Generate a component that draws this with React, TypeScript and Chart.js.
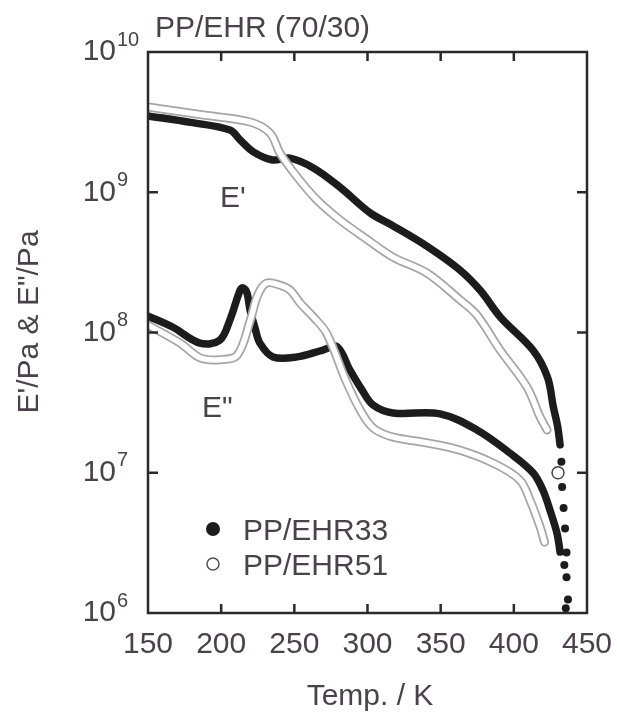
import React, { useEffect, useRef } from 'react';
import { Chart, registerables } from 'chart.js';

Chart.register(...registerables);

// ---------- data ----------
const titleText = 'PP/EHR (70/30)';
const xAxisTitle = 'Temp. / K';
const yAxisTitle = 'E\'/Pa & E"/Pa';
const seriesNames = ['PP/EHR33', 'PP/EHR51'];
const xTicks = [150, 200, 250, 300, 350, 400, 450];
const yExponents = [6, 7, 8, 9, 10];

// PP/EHR33  E'
const eStor33T = [150, 179, 206, 213, 222, 235, 247, 263, 281, 302, 317, 341, 363, 377, 391, 413, 423, 427, 430, 431.6];
const eStor33V = [3.5e9, 3.15e9, 2.78e9, 2.36e9, 1.94e9, 1.7e9, 1.75e9, 1.49e9, 1.09e9, 7.1e8, 5.8e8, 4.1e8, 2.8e8, 2.0e8, 1.28e8, 7.5e7, 4.8e7, 2.94e7, 2.12e7, 1.58e7];
// PP/EHR33  E''
const eLoss33T = [150, 167, 185.5, 199, 206, 213, 215, 217.7, 219.7, 223, 226.5, 235.4, 251.8, 269.6, 279.2, 288, 296.2, 303.8, 317.4, 349.6, 374.8, 397.4, 413.1, 419.9, 424.7, 429.5, 431.6];
const eLoss33V = [1.31e8, 1.09e8, 8.4e7, 8.8e7, 1.23e8, 2.01e8, 2.08e8, 1.91e8, 1.45e8, 1.09e8, 8.4e7, 6.7e7, 6.7e7, 7.5e7, 7.9e7, 5.4e7, 3.9e7, 3.04e7, 2.67e7, 2.63e7, 2.02e7, 1.38e7, 1.0e7, 7.5e6, 5.4e6, 3.7e6, 2.72e6];
// PP/EHR33  scattered points at the melting end
const tail33T = [432.5, 433, 434, 435, 436, 434.5, 436, 437, 435.5];
const tail33V = [1.2e7, 7.9e6, 5.6e6, 4.0e6, 2.7e6, 2.2e6, 1.8e6, 1.25e6, 1.08e6];

// PP/EHR51  E'
const eStor51T = [150, 185.5, 219.7, 233.4, 240.2, 251.8, 265.5, 281.2, 298.3, 317.4, 340.7, 363.2, 374.8, 390.6, 409, 417.9, 422.7];
const eStor51V = [4.06e9, 3.58e9, 3.17e9, 2.64e9, 1.9e9, 1.29e9, 8.8e8, 6.34e8, 4.72e8, 3.45e8, 2.65e8, 1.71e8, 1.33e8, 7.5e7, 4.08e7, 2.5e7, 2.02e7];
// PP/EHR51  E''
const eLoss51T = [150, 172, 185.5, 199, 211, 220, 225, 231, 240, 247, 254, 263, 272, 285, 295, 304, 317, 341, 363, 386, 404, 411, 418, 421];
const eLoss51V = [1.13e8, 8.4e7, 6.6e7, 6.4e7, 6.9e7, 1.23e8, 1.85e8, 2.25e8, 2.18e8, 2.01e8, 1.62e8, 1.29e8, 9.9e7, 4.6e7, 2.8e7, 2.08e7, 1.8e7, 1.63e7, 1.45e7, 1.17e7, 8.9e6, 6.4e6, 4.1e6, 3.2e6];
// PP/EHR51  isolated point at the melting end
const tail51T = [430.2];
const tail51V = [1.0e7];

// ---------- styling ----------
const FONT = '"Liberation Sans", Arial, Helvetica, sans-serif';
const TEXT = '#4a424a';
const FRAME = '#2a2a2a';
const BLACK = '#1c1c1c';
const OPEN_EDGE = '#a6a6a6';

const pts = (xs: number[], ys: number[]) => xs.map((x, i) => ({ x, y: ys[i] }));

const blackLine = (label: string, data: any[]) => ({
  label, data, showLine: true, borderColor: BLACK, borderWidth: 7.5, pointRadius: 0,
  tension: 0.35, borderCapStyle: 'round', borderJoinStyle: 'round', order: 3,
});
const openOuter = (label: string, data: any[]) => ({
  label, data, showLine: true, borderColor: OPEN_EDGE, borderWidth: 9, pointRadius: 0,
  tension: 0.35, borderCapStyle: 'round', borderJoinStyle: 'round', order: 2,
});
const openInner = (label: string, data: any[]) => ({
  label, data, showLine: true, borderColor: '#ffffff', borderWidth: 5.5, pointRadius: 0,
  tension: 0.35, borderCapStyle: 'round', borderJoinStyle: 'round', order: 1,
});

const decorPlugin = {
  id: 'decor',
  afterDraw(chart: any) {
    const { ctx, chartArea: a, scales } = chart;
    const xs = scales.x;
    const ys = scales.y;
    ctx.save();
    // frame
    ctx.strokeStyle = FRAME;
    ctx.lineWidth = 2.5;
    ctx.strokeRect(a.left, a.top, a.right - a.left, a.bottom - a.top);
    const seg = (x1: number, y1: number, x2: number, y2: number) => {
      ctx.beginPath(); ctx.moveTo(x1, y1); ctx.lineTo(x2, y2); ctx.stroke();
    };
    // inward x ticks
    xTicks.forEach((t, i) => {
      if (i === 0 || i === xTicks.length - 1) return;
      const px = xs.getPixelForValue(t);
      seg(px, a.bottom, px, a.bottom - 9);
      seg(px, a.top, px, a.top + 9);
    });
    // y ticks + labels with superscript exponent
    ctx.fillStyle = TEXT;
    yExponents.forEach((e, i) => {
      const py = ys.getPixelForValue(Math.pow(10, e));
      if (i !== 0 && i !== yExponents.length - 1) {
        seg(a.left, py, a.left + 10, py);
        seg(a.right, py, a.right - 10, py);
      }
      ctx.font = `30px ${FONT}`;
      ctx.textAlign = 'right';
      ctx.textBaseline = 'middle';
      ctx.fillText('10', a.left - 32, py);
      ctx.font = `20px ${FONT}`;
      ctx.textAlign = 'left';
      ctx.fillText(String(e), a.left - 31, py - 12);
    });
    // title
    ctx.font = `30px ${FONT}`;
    ctx.textAlign = 'left';
    ctx.textBaseline = 'alphabetic';
    ctx.fillText(titleText, a.left + 7, a.top - 15);
    // x axis title
    ctx.textAlign = 'center';
    ctx.fillText(xAxisTitle, 370, 705);
    // y axis title
    ctx.save();
    ctx.translate(30, 322);
    ctx.rotate(-Math.PI / 2);
    ctx.textBaseline = 'middle';
    ctx.fillText(yAxisTitle, 0, 0);
    ctx.restore();
    // curve annotations
    ctx.textAlign = 'left';
    ctx.textBaseline = 'alphabetic';
    ctx.fillText("E'", 220, 207);
    ctx.fillText('E"', 202, 417);
    // legend
    ctx.fillStyle = BLACK;
    ctx.beginPath(); ctx.arc(213, 529, 7, 0, Math.PI * 2); ctx.fill();
    ctx.strokeStyle = '#555055';
    ctx.lineWidth = 1.5;
    ctx.beginPath(); ctx.arc(213, 564, 6, 0, Math.PI * 2); ctx.stroke();
    ctx.fillStyle = TEXT;
    ctx.fillText(seriesNames[0], 243, 540);
    ctx.fillText(seriesNames[1], 243, 575);
    ctx.restore();
  },
};

export default function App() {
  const ref = useRef<HTMLCanvasElement>(null);
  useEffect(() => {
    if (!ref.current) return;
    const datasets: any[] = [
      blackLine(seriesNames[0] + " E'", pts(eStor33T, eStor33V)),
      blackLine(seriesNames[0] + ' E"', pts(eLoss33T, eLoss33V)),
      openOuter(seriesNames[1] + " E'", pts(eStor51T, eStor51V)),
      openOuter(seriesNames[1] + ' E"', pts(eLoss51T, eLoss51V)),
      openInner(seriesNames[1] + " E'", pts(eStor51T, eStor51V)),
      openInner(seriesNames[1] + ' E"', pts(eLoss51T, eLoss51V)),
      {
        label: seriesNames[0] + ' end', data: pts(tail33T, tail33V), showLine: false,
        pointRadius: 4, backgroundColor: BLACK, borderColor: BLACK, borderWidth: 0, order: 0,
      },
      {
        label: seriesNames[1] + ' end', data: pts(tail51T, tail51V), showLine: false,
        pointRadius: 6, backgroundColor: '#ffffff', borderColor: '#4a424a', borderWidth: 1.5, order: 0,
      },
    ];
    const chart = new Chart(ref.current, {
      type: 'scatter',
      data: { datasets },
      options: {
        responsive: false,
        maintainAspectRatio: false,
        animation: false,
        layout: { padding: { left: 0, right: 30, top: 52, bottom: 0 } },
        plugins: { legend: { display: false }, tooltip: { enabled: false }, title: { display: false } },
        scales: {
          x: {
            type: 'linear', min: 150, max: 450,
            afterFit: (s: any) => { s.height = 101; s.paddingLeft = 0; s.paddingRight = 0; },
            afterBuildTicks: (s: any) => { s.ticks = xTicks.map((v) => ({ value: v })); },
            grid: { display: false, drawTicks: false },
            border: { display: false },
            ticks: { font: { size: 30, family: FONT }, color: TEXT, padding: 14, maxRotation: 0, autoSkip: false },
          },
          y: {
            type: 'logarithmic', min: 1e6, max: 1e10,
            afterFit: (s: any) => { s.width = 148; s.paddingTop = 0; s.paddingBottom = 0; },
            grid: { display: false, drawTicks: false },
            border: { display: false },
            ticks: { display: false },
          },
        },
      } as any,
      plugins: [decorPlugin],
    });
    return () => chart.destroy();
  }, []);
  return (
    <div style={{ position: 'fixed', left: 0, top: 0, width: 617, height: 714, background: '#fff' }}>
      <canvas ref={ref} width={617} height={714} style={{ width: 617, height: 714, display: 'block' }} />
    </div>
  );
}
